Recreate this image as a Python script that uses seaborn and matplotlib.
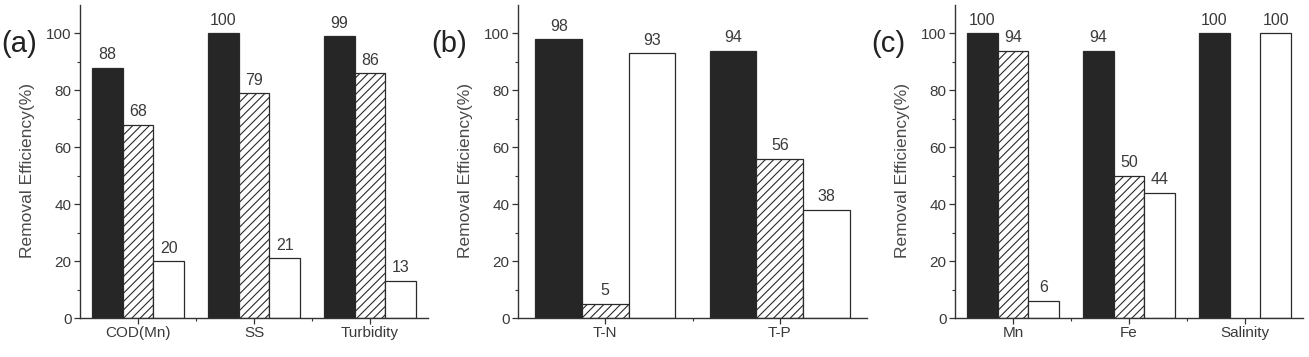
import numpy as np
import pandas as pd
import matplotlib
matplotlib.use("Agg")
import matplotlib.pyplot as plt
import seaborn as sns
from matplotlib.ticker import FixedLocator

# ---- data ----
series = ["Process 1", "Process 2", "Process 3"]

cats_a = ["COD(Mn)", "SS", "Turbidity"]
vals_a_1 = [88, 100, 99]
vals_a_2 = [68, 79, 86]
vals_a_3 = [20, 21, 13]

cats_b = ["T-N", "T-P"]
vals_b_1 = [98, 94]
vals_b_2 = [5, 56]
vals_b_3 = [93, 38]

cats_c = ["Mn", "Fe", "Salinity"]
vals_c_1 = [100, 94, 100]
vals_c_2 = [94, 50, np.nan]
vals_c_3 = [6, 44, 100]

panel_labels = ["(a)", "(b)", "(c)"]
ylabel = "Removal Efficiency(%)"

sns.set_theme(style="white")
plt.rcParams["font.family"] = ["Liberation Sans", "DejaVu Sans"]
plt.rcParams["hatch.linewidth"] = 0.8
plt.rcParams["hatch.color"] = "#444444"

def make_df(cats, v1, v2, v3):
    rows = []
    for s, vals in zip(series, [v1, v2, v3]):
        for c, v in zip(cats, vals):
            rows.append({"category": c, "series": s, "value": v})
    return pd.DataFrame(rows).dropna()

panels = [
    (cats_a, vals_a_1, vals_a_2, vals_a_3),
    (cats_b, vals_b_1, vals_b_2, vals_b_3),
    (cats_c, vals_c_1, vals_c_2, vals_c_3),
]

W, H = 1309, 357
fig = plt.figure(figsize=(W / 100, H / 100), dpi=100)
lefts = [80, 518, 955]
widths = [348, 349, 348]
bottom = 39 / H
height = 313 / H
label_x = [1, 431, 871]

text_col = "#3a3a3a"
faces = {"Process 1": "#262626", "Process 2": "white", "Process 3": "white"}

for i, (cats, v1, v2, v3) in enumerate(panels):
    ax = fig.add_axes([lefts[i] / W, bottom, widths[i] / W, height])
    df = make_df(cats, v1, v2, v3)
    sns.barplot(data=df, x="category", y="value", hue="series",
                order=cats, hue_order=series, palette=faces,
                width=0.8, gap=0, edgecolor="#2a2a2a", linewidth=0.9,
                errorbar=None, legend=False, ax=ax, saturation=1)
    for j, cont in enumerate(ax.containers):
        for p in cont:
            if j == 1:
                p.set_hatch("////")
        ax.bar_label(cont, fmt="%g", padding=4, fontsize=11.5, color=text_col)
    ax.set_xlim(-0.5, len(cats) - 0.5)
    ax.set_ylim(0, 110)
    ax.yaxis.set_major_locator(FixedLocator([0, 20, 40, 60, 80, 100]))
    ax.yaxis.set_minor_locator(FixedLocator([10, 30, 50, 70, 90]))
    ax.xaxis.set_minor_locator(FixedLocator([k + 0.5 for k in range(len(cats) - 1)]))
    for s in ["top", "right"]:
        ax.spines[s].set_visible(False)
    for s in ["left", "bottom"]:
        ax.spines[s].set_color("#333333")
        ax.spines[s].set_linewidth(1.0)
    ax.tick_params(axis="both", which="major", direction="out", length=4,
                   width=0.9, color="#333333", labelsize=11, labelcolor=text_col,
                   bottom=True, left=True, pad=2)
    ax.tick_params(axis="both", which="minor", direction="out", length=2.5,
                   width=0.8, color="#333333", bottom=True, left=True)
    ax.set_xlabel("")
    ax.set_ylabel(ylabel, fontsize=12.5, color="#4a4a4a")
    ax.yaxis.set_label_coords(-0.13, 0.47)
    fig.text(label_x[i] / W, 1 - 44 / H, panel_labels[i], fontsize=21,
             color="#222222", va="center", ha="left")

fig.savefig("out.png", dpi=100)
